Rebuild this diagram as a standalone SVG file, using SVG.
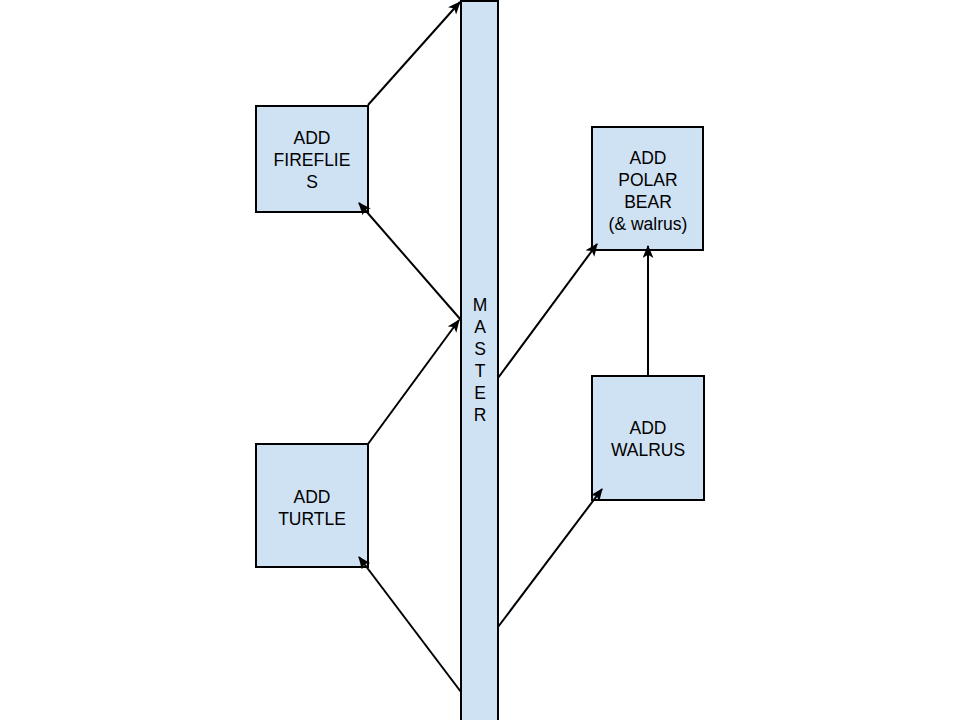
<svg xmlns="http://www.w3.org/2000/svg" width="960" height="720" viewBox="0 0 960 720">
<style>
.box{fill:#cfe2f3;stroke:#000;stroke-width:2}
.lbl{font-family:"Liberation Sans",Arial,sans-serif;font-size:17.5px;fill:#000;text-anchor:middle}
.edge{stroke:#000;stroke-width:2;fill:none;marker-end:url(#arr)}
</style>
<defs>
<marker id="arr" viewBox="0 0 12 10" refX="11" refY="5" markerWidth="6.5" markerHeight="5.5" orient="auto" markerUnits="strokeWidth">
<path d="M0,0 L12,5 L0,10 L3,5 z" fill="#000"/>
</marker>
</defs>
<rect width="960" height="720" fill="#fff"/>
<g id="master">
<rect class="box" x="461" y="1" width="37" height="724"/>
<text class="lbl" x="480" y="311">M</text>
<text class="lbl" x="480" y="333">A</text>
<text class="lbl" x="480" y="355">S</text>
<text class="lbl" x="480" y="377">T</text>
<text class="lbl" x="480" y="399">E</text>
<text class="lbl" x="480" y="421">R</text>
</g>
<g id="fireflies">
<rect class="box" x="256" y="106" width="112" height="106"/>
<text class="lbl" x="312" y="144">ADD</text>
<text class="lbl" x="312" y="166">FIREFLIE</text>
<text class="lbl" x="312" y="188">S</text>
</g>
<g id="turtle">
<rect class="box" x="256" y="444" width="112" height="123"/>
<text class="lbl" x="312" y="503">ADD</text>
<text class="lbl" x="312" y="525">TURTLE</text>
</g>
<g id="polarbear">
<rect class="box" x="592" y="127" width="111" height="123"/>
<text class="lbl" x="648" y="164">ADD</text>
<text class="lbl" x="648" y="186">POLAR</text>
<text class="lbl" x="648" y="208">BEAR</text>
<text class="lbl" x="648" y="230">(&amp; walrus)</text>
</g>
<g id="walrus">
<rect class="box" x="592" y="376" width="112" height="124"/>
<text class="lbl" x="648" y="434">ADD</text>
<text class="lbl" x="648" y="456">WALRUS</text>
</g>
<g id="connectors">
<path class="edge" d="M368,105 L460,2"/>
<path class="edge" d="M461,320 L359,203"/>
<path class="edge" d="M368,444 L459,320"/>
<path class="edge" d="M461,692 L359,557"/>
<path class="edge" d="M498,378 L597,244"/>
<path class="edge" d="M648,376 L648,246"/>
<path class="edge" d="M498,627 L602,489"/>
</g>
</svg>
